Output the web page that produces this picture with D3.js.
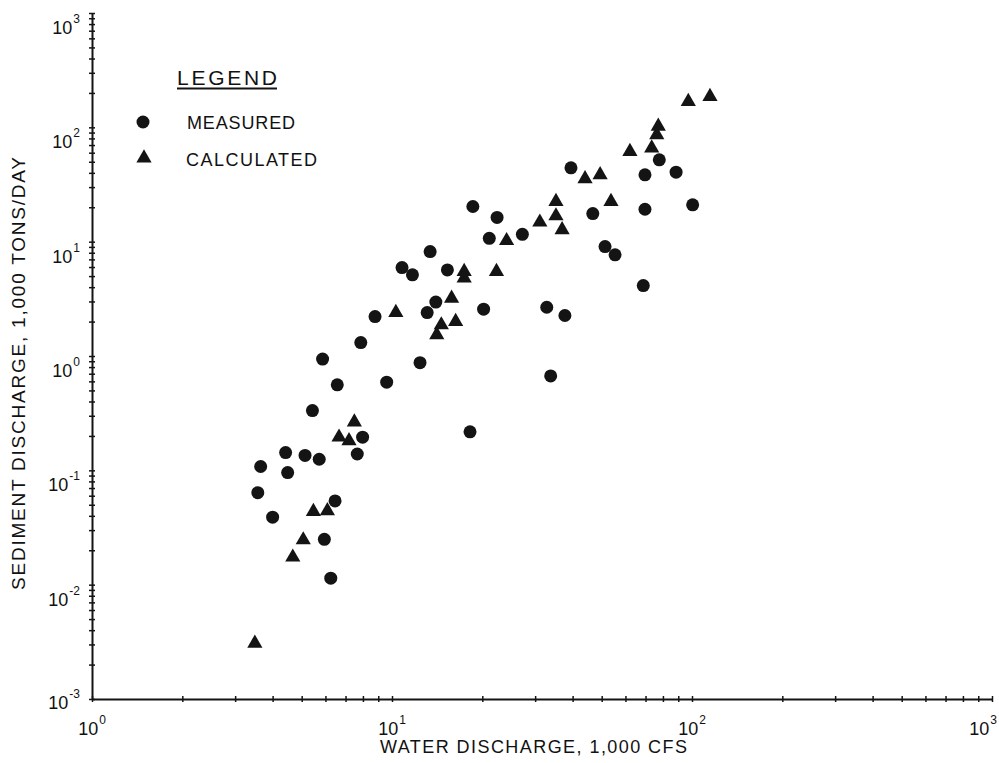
<!DOCTYPE html>
<html lang="en">
<head>
<meta charset="utf-8">
<title>Sediment discharge vs water discharge</title>
<script src="https://cdnjs.cloudflare.com/ajax/libs/d3/7.8.5/d3.min.js"></script>
<style>
  body { margin: 0; background: #fff; }
  svg text { font-family: "Liberation Sans", Arial, sans-serif; fill: #111; }
</style>
</head>
<body>
<script>
// water discharge (1,000 cfs) and sediment discharge (1,000 tons/day)
var measuredX = [7.87, 5.87, 12.4, 6.57, 9.6, 5.43, 7.98, 7.66, 4.42, 5.13, 5.72, 3.65, 4.49, 3.57, 6.46,
                 4.0, 5.95, 6.25, 18.6, 22.4, 21.1, 27.2, 46.7, 51.3, 55.4, 13.4, 10.8, 11.7, 15.3, 14.0,
                 13.1, 8.78, 20.2, 32.8, 37.7, 33.8, 77.8, 69.7, 88.5, 69.7, 100.5, 68.8, 39.5, 18.2];
var measuredY = [1.31, 0.94, 0.875, 0.56, 0.59, 0.333, 0.195, 0.139, 0.143, 0.135, 0.125, 0.108, 0.0955, 0.0638, 0.054,
                 0.0389, 0.0249, 0.0114, 20.3, 16.3, 10.7, 11.6, 17.6, 9.06, 7.67, 8.19, 5.93, 5.13, 5.66, 2.96,
                 2.4, 2.21, 2.57, 2.67, 2.26, 0.67, 52, 38.4, 40.5, 19.2, 21, 4.13, 44.2, 0.217];

var calculatedX = [7.49, 6.66, 7.19, 5.47, 6.09, 5.06, 4.67, 3.49, 35.2, 35.2, 36.9, 31.1, 24.1, 53.7, 17.4,
                   17.4, 22.3, 15.8, 10.3, 16.3, 14.6, 14.1, 97.2, 114.8, 77.2, 76.3, 73.4, 62.1, 49.4, 44];
var calculatedY = [0.264, 0.195, 0.181, 0.0436, 0.0442, 0.0246, 0.0174, 0.00307, 22.4, 16.8, 12.7, 14.8, 10.2, 22.4, 5.47,
                   4.8, 5.47, 3.2, 2.4, 2.0, 1.87, 1.53, 168, 186, 102, 86, 65.8, 61.4, 38.4, 35.4];

var xTickExps = [0, 1, 2, 3];
var yTickExps = [-3, -2, -1, 0, 1, 2, 3];
var legendLabels = ["MEASURED", "CALCULATED"];

var w = 999, h = 763;
var ink = "#141414";

var svg = d3.select("body").append("svg")
    .attr("width", w)
    .attr("height", h);

var x = d3.scaleLog().domain([1, 1000]).range([92, 992]);
var y = d3.scaleLog().domain([0.001, 1000]).range([699, 13]);

// log ticks: 1..9 in every decade
function logTicks(lo, hi) {
    var t = [];
    for (var e = lo; e < hi; e++) {
        for (var k = 1; k < 10; k++) t.push(k * Math.pow(10, e));
    }
    t.push(Math.pow(10, hi));
    return t;
}

var xAxis = svg.append("g")
    .attr("transform", "translate(0,699)")
    .call(d3.axisBottom(x).tickValues(logTicks(0, 3)).tickSize(3).tickSizeOuter(0).tickFormat(""));
xAxis.select(".domain").attr("stroke", ink).attr("stroke-width", 2);
xAxis.selectAll(".tick line").attr("y1", -3).attr("y2", 3).attr("stroke", ink).attr("stroke-width", 1.5);

var yAxis = svg.append("g")
    .attr("transform", "translate(92,0)")
    .call(d3.axisLeft(y).tickValues(logTicks(-3, 3)).tickSize(3).tickSizeOuter(0).tickFormat(""));
yAxis.select(".domain").attr("stroke", ink).attr("stroke-width", 2);
yAxis.selectAll(".tick line").attr("x1", -3).attr("x2", 3).attr("stroke", ink).attr("stroke-width", 1.5);

// power-of-ten tick labels
function powLabel(sel, e) {
    sel.append("tspan").attr("font-size", 18).text("10");
    sel.append("tspan").attr("font-size", 12).attr("dx", 1).attr("dy", -11).text(e);
}

xTickExps.forEach(function(e, i) {
    var last = i === xTickExps.length - 1;
    var t = svg.append("text")
        .attr("x", last ? 997 : x(Math.pow(10, e)))
        .attr("y", 735)
        .attr("text-anchor", last ? "end" : "middle");
    powLabel(t, e);
});

yTickExps.forEach(function(e) {
    var off = e === -3 ? 10 : 21;
    var t = svg.append("text")
        .attr("x", 80)
        .attr("y", y(Math.pow(10, e)) + off)
        .attr("text-anchor", "end");
    powLabel(t, e);
});

// axis titles
svg.append("text")
    .attr("x", 380)
    .attr("y", 753)
    .attr("font-size", 18)
    .attr("textLength", 307)
    .attr("lengthAdjust", "spacing")
    .text("WATER DISCHARGE, 1,000 CFS");

svg.append("text")
    .attr("transform", "translate(25,590) rotate(-90)")
    .attr("font-size", 19)
    .attr("textLength", 433)
    .attr("lengthAdjust", "spacing")
    .text("SEDIMENT DISCHARGE, 1,000 TONS/DAY");

// points
var measured = measuredX.map(function(v, i) { return [v, measuredY[i]]; });
var calculated = calculatedX.map(function(v, i) { return [v, calculatedY[i]]; });

var tri = d3.symbol().type(d3.symbolTriangle).size(100);

svg.append("g").selectAll("circle")
    .data(measured)
    .enter()
    .append("circle")
    .attr("cx", function(d) { return x(d[0]); })
    .attr("cy", function(d) { return y(d[1]); })
    .attr("r", 6.5)
    .attr("fill", ink);

svg.append("g").selectAll("path")
    .data(calculated)
    .enter()
    .append("path")
    .attr("transform", function(d) { return "translate(" + x(d[0]) + "," + y(d[1]) + ")"; })
    .attr("d", tri)
    .attr("fill", ink);

// legend
svg.append("text")
    .attr("x", 177)
    .attr("y", 85)
    .attr("font-size", 21)
    .attr("textLength", 100)
    .attr("lengthAdjust", "spacing")
    .text("LEGEND");
svg.append("line")
    .attr("x1", 177).attr("x2", 277)
    .attr("y1", 88.5).attr("y2", 88.5)
    .attr("stroke", ink).attr("stroke-width", 1.8);

svg.append("circle").attr("cx", 143).attr("cy", 122).attr("r", 6.5).attr("fill", ink);
svg.append("path").attr("transform", "translate(144,158)").attr("d", tri).attr("fill", ink);

svg.append("text").attr("x", 187).attr("y", 128.5).attr("font-size", 18)
    .attr("textLength", 108).attr("lengthAdjust", "spacing").text(legendLabels[0]);
svg.append("text").attr("x", 186).attr("y", 165.5).attr("font-size", 18)
    .attr("textLength", 131).attr("lengthAdjust", "spacing").text(legendLabels[1]);
</script>
</body>
</html>
